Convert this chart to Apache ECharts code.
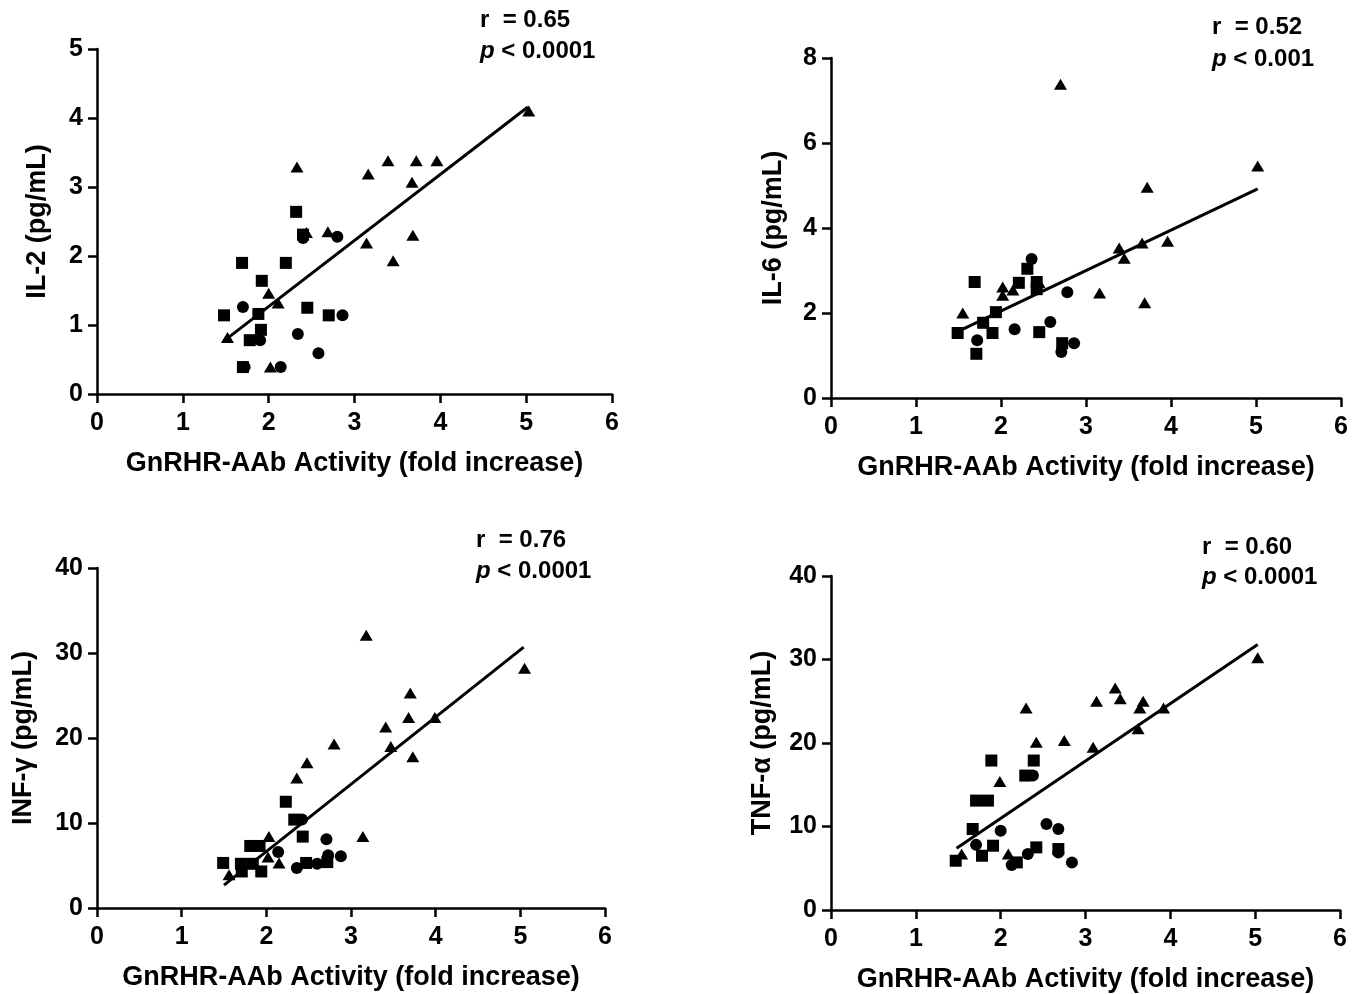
<!DOCTYPE html>
<html>
<head>
<meta charset="utf-8">
<script src="https://cdn.jsdelivr.net/npm/echarts@6/dist/echarts.min.js"></script>
<style>
html,body{margin:0;padding:0;background:#fff;}
#c{width:1363px;height:994px;}
</style>
</head>
<body>
<div id="c"></div>
<script>
// ---- Data (x = GnRHR-AAb activity, y = cytokine) ----
const xTitle = 'GnRHR-AAb Activity (fold increase)';

// IL-2
const il2Tri = [[1.52,0.82],[2.02,0.39],[2.00,1.46],[2.11,1.32],[2.33,3.29],[2.44,2.34],[2.69,2.35],[3.14,2.19],[3.16,3.19],[3.39,3.38],[3.45,1.93],[3.67,3.07],[3.68,2.30],[3.72,3.38],[3.96,3.38],[5.03,4.10]];
const il2Sq = [[1.48,1.14],[1.69,1.90],[1.70,0.39],[1.78,0.78],[1.88,1.16],[1.91,0.93],[1.92,1.64],[2.20,1.90],[2.32,2.64],[2.40,2.31],[2.45,1.25],[2.70,1.14]];
const il2Circ = [[1.70,1.26],[1.72,0.39],[1.90,0.78],[2.14,0.39],[2.34,0.87],[2.40,2.26],[2.58,0.59],[2.80,2.28],[2.86,1.14]];
const il2Fit = [[1.48,0.77],[5.02,4.16]];
const il2Stats = ['r  = 0.65', '< 0.0001'];

// IL-6
const il6Tri = [[1.55,2.00],[2.02,2.61],[2.02,2.42],[2.14,2.54],[2.45,2.71],[2.70,7.38],[3.16,2.47],[3.39,3.53],[3.45,3.29],[3.66,3.65],[3.69,2.24],[3.72,4.96],[3.96,3.69],[5.02,5.46]];
const il6Sq = [[1.49,1.53],[1.69,2.73],[1.71,1.04],[1.79,1.77],[1.90,1.53],[1.94,2.02],[2.21,2.71],[2.31,3.04],[2.42,2.73],[2.42,2.56],[2.45,1.55],[2.72,1.29]];
const il6Circ = [[1.72,1.36],[2.16,1.62],[2.36,3.27],[2.58,1.79],[2.71,1.08],[2.78,2.49],[2.86,1.29]];
const il6Fit = [[1.49,1.56],[5.02,4.92]];
const il6Stats = ['r  = 0.52', '< 0.001'];

// INF-gamma
const infTri = [[1.56,3.9],[2.02,6.0],[2.03,8.4],[2.15,5.3],[2.36,15.3],[2.48,17.1],[2.80,19.3],[3.14,8.4],[3.18,32.1],[3.41,21.3],[3.47,19.0],[3.68,22.4],[3.70,25.3],[3.73,17.8],[3.99,22.4],[5.05,28.2]];
const infSq = [[1.49,5.3],[1.70,5.2],[1.71,4.3],[1.81,7.3],[1.84,5.2],[1.92,7.3],[1.94,4.3],[2.23,12.5],[2.33,10.4],[2.43,8.4],[2.47,5.3],[2.72,5.4]];
const infCirc = [[2.14,6.6],[2.36,4.7],[2.42,10.4],[2.60,5.2],[2.71,8.1],[2.73,6.2],[2.88,6.1]];
const infFit = [[1.50,2.7],[5.04,30.7]];
const infStats = ['r  = 0.76', '< 0.0001'];

// TNF-alpha
const tnfTri = [[1.54,6.7],[1.99,15.4],[2.09,6.7],[2.30,24.2],[2.42,20.1],[2.75,20.3],[3.09,19.5],[3.13,25.0],[3.35,26.6],[3.41,25.3],[3.62,21.7],[3.64,24.2],[3.68,25.0],[3.92,24.2],[5.03,30.2]];
const tnfSq = [[1.47,5.9],[1.67,9.7],[1.71,13.1],[1.78,6.5],[1.85,13.1],[1.89,17.9],[1.91,7.7],[2.19,5.7],[2.29,16.1],[2.39,17.9],[2.42,7.5],[2.68,7.3]];
const tnfCirc = [[1.71,7.8],[2.00,9.5],[2.13,5.4],[2.32,6.7],[2.38,16.1],[2.54,10.3],[2.68,9.7],[2.68,6.9],[2.84,5.7]];
const tnfFit = [[1.48,7.4],[5.03,31.8]];
const tnfStats = ['r  = 0.60', '< 0.0001'];

// ---- Chart ----
const FONT = '"Liberation Sans", Arial, Helvetica, sans-serif';
const panels = [
  {yName:'IL-2 (pg/mL)', yMax:5, yInt:1, tri:il2Tri, sq:il2Sq, circ:il2Circ, fit:il2Fit, stats:il2Stats,
   grid:{left:97, top:49, width:515, height:345}, yGap:46, statPos:[480,21,52]},
  {yName:'IL-6 (pg/mL)', yMax:8, yInt:2, tri:il6Tri, sq:il6Sq, circ:il6Circ, fit:il6Fit, stats:il6Stats,
   grid:{left:831, top:58, width:510, height:340}, yGap:44, statPos:[1212,28,60]},
  {yName:'INF-\u03B3 (pg/mL)', yMax:40, yInt:10, tri:infTri, sq:infSq, circ:infCirc, fit:infFit, stats:infStats,
   grid:{left:97, top:568, width:508, height:340}, yGap:60, statPos:[476,541,572]},
  {yName:'TNF-\u03B1 (pg/mL)', yMax:40, yInt:10, tri:tnfTri, sq:tnfSq, circ:tnfCirc, fit:tnfFit, stats:tnfStats,
   grid:{left:831, top:576, width:509, height:335}, yGap:55, statPos:[1202,548,578]}
];

const axisLine = {show:true, onZero:false, lineStyle:{color:'#000', width:2.5}};
const axisTick = {show:true, length:9, lineStyle:{color:'#000', width:2.5}};
const labelStyle = {color:'#000', fontSize:25, fontWeight:'bold', fontFamily:FONT};
const nameStyle = {color:'#000', fontSize:27, fontWeight:'bold', fontFamily:FONT};

const grid = [], xAxis = [], yAxis = [], series = [], graphic = [];
panels.forEach((p, i) => {
  grid.push(Object.assign({}, p.grid));
  xAxis.push({type:'value', gridIndex:i, min:0, max:6, interval:1,
    axisLine, axisTick, splitLine:{show:false},
    axisLabel:Object.assign({margin:17}, labelStyle),
    name:xTitle, nameLocation:'middle', nameGap:56, nameTextStyle:nameStyle});
  yAxis.push({type:'value', gridIndex:i, min:0, max:p.yMax, interval:p.yInt,
    axisLine, axisTick, splitLine:{show:false},
    axisLabel:Object.assign({margin:14}, labelStyle),
    name:p.yName, nameLocation:'middle', nameRotate:90, nameGap:p.yGap, nameTextStyle:nameStyle});
  const common = {xAxisIndex:i, yAxisIndex:i, itemStyle:{color:'#000', opacity:1}, silent:true};
  series.push(Object.assign({type:'scatter', data:p.sq, symbol:'rect', symbolSize:12}, common));
  series.push(Object.assign({type:'scatter', data:p.circ, symbol:'circle', symbolSize:12}, common));
  series.push(Object.assign({type:'scatter', data:p.tri, symbol:'triangle', symbolSize:[13,11]}, common));
  series.push({type:'line', xAxisIndex:i, yAxisIndex:i, data:p.fit, symbol:'none', silent:true,
    lineStyle:{color:'#000', width:3}, z:3});
  const [sx, sy1, sy2] = p.statPos;
  graphic.push({type:'text', left:sx, top:sy1-13, style:{text:p.stats[0], fill:'#000',
    font:'bold 24px ' + FONT}});
  graphic.push({type:'text', left:sx, top:sy2-13, style:{text:'{i|p} ' + p.stats[1], fill:'#000',
    font:'bold 24px ' + FONT,
    rich:{i:{fontStyle:'italic', fontWeight:'bold', fontSize:24, fontFamily:FONT}}}});
});

const chart = echarts.init(document.getElementById('c'), null, {renderer:'canvas'});
chart.setOption({animation:false, backgroundColor:'#fff', grid, xAxis, yAxis, series, graphic});
</script>
</body>
</html>
